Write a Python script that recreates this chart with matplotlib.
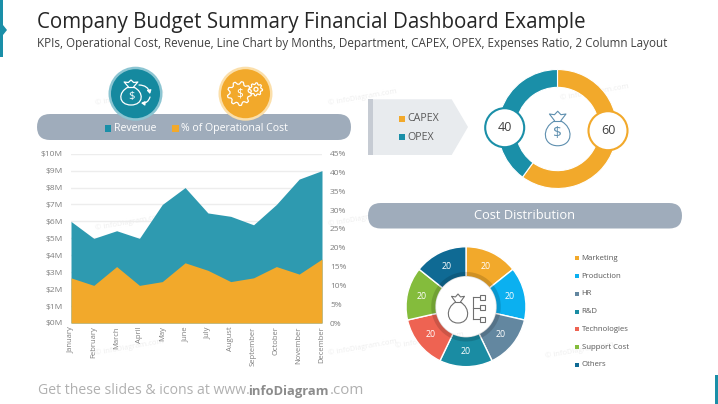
import numpy as np
import matplotlib
matplotlib.use("Agg")
import matplotlib.pyplot as plt
from matplotlib.patches import Circle, FancyBboxPatch, Polygon, Rectangle, PathPatch, FancyArrowPatch
from matplotlib.path import Path

plt.rcParams['font.family'] = ['Open Sans', 'DejaVu Sans']

months = ["January", "February", "March", "April", "May", "June", "July",
          "August", "September", "October", "November", "December"]
revenue = [6.0, 5.0, 5.45, 5.0, 7.0, 8.0, 6.5, 6.3, 5.8, 7.0, 8.5, 9.0]
op_cost = [12, 10, 15, 10, 11, 16, 14, 11, 12, 15, 13, 17]
budget_labels = ["CAPEX", "OPEX"]
budget_values = [60, 40]
cost_labels = ["Marketing", "Production", "HR", "R&D", "Technologies", "Support Cost", "Others"]
cost_values = [20, 20, 20, 20, 20, 20, 20]

ORANGE = "#F2A92B"
TEAL = "#1A8FA8"
AREA_TEAL = "#2E9AB0"
PILL = "#9FACBB"
GRAY = "#7F7F7F"
cost_colors = [ORANGE, "#0BB0F0", "#6387A0", "#1A8CA3", "#EE6352", "#84BC3C", "#0F6A94"]

W, H = 718, 404
fig = plt.figure(figsize=(W / 100, H / 100), dpi=100, facecolor="white")


def pixel_axes(x0, y0, x1, y1, **kw):
    return fig.add_axes([x0 / W, 1 - y1 / H, (x1 - x0) / W, (y1 - y0) / H], **kw)


bg = pixel_axes(0, 0, W, H)
bg.set_xlim(0, W); bg.set_ylim(H, 0); bg.axis("off"); bg.set_zorder(0)
top = pixel_axes(0, 0, W, H)
top.set_xlim(0, W); top.set_ylim(H, 0); top.axis("off"); top.set_zorder(10); top.patch.set_alpha(0)


def bag(ax, cx, cy, w, h, color, lw=1.0, dollar=None):
    def P(u, v):
        return (cx + u * w, cy + v * h)
    verts = [P(-0.13, -0.22), P(-0.72, -0.02), P(-0.66, 0.5), P(0, 0.5),
             P(0.66, 0.5), P(0.72, -0.02), P(0.13, -0.22)]
    codes = [Path.MOVETO] + [Path.CURVE4] * 6
    ax.add_patch(PathPatch(Path(verts, codes), fc="none", ec=color, lw=lw))
    ax.plot([P(-0.14, 0)[0], P(0.14, 0)[0]], [cy - 0.22 * h] * 2, color=color, lw=lw)
    ax.add_patch(Polygon([P(-0.13, -0.22), P(-0.36, -0.42), P(-0.14, -0.4), P(0, -0.5), P(0.14, -0.4),
                          P(0.36, -0.42), P(0.13, -0.22)], closed=False, fc="none", ec=color, lw=lw,
                         joinstyle="round"))
    if dollar:
        ax.text(cx, cy + 0.14 * h, "$", color=color, fontsize=dollar, ha="center", va="center")


def gear(ax, cx, cy, r, teeth, color, lw=1.0):
    angs = np.linspace(0, 2 * np.pi, teeth * 4, endpoint=False)
    radii = np.tile([r, r, r * 0.78, r * 0.78], teeth)
    ax.add_patch(Polygon(np.c_[cx + radii * np.cos(angs), cy + radii * np.sin(angs)], closed=True,
                         fc="none", ec=color, lw=lw, joinstyle="round"))


def pill(ax, x0, y0, x1, y1):
    h = y1 - y0
    ax.add_patch(FancyBboxPatch((x0 + h / 2, y0 + h / 2), x1 - x0 - h, 0.01,
                                boxstyle=f"round,pad={h / 2 - 0.01},rounding_size={h / 2 - 0.01}",
                                fc=PILL, ec="none"))


# Slide furniture
bg.add_patch(Rectangle((0, 0), 3, 57, fc=TEAL, ec="none"))
bg.add_patch(Polygon([(3, 25), (7, 30), (3, 35)], fc=TEAL, ec="none"))
bg.add_patch(Rectangle((715, 375), 3, 29, fc=TEAL, ec="none"))
bg.text(37, 22.5, "Company Budget Summary Financial Dashboard Example", fontsize=14.8, color="#262626", va="center")
bg.text(37, 44, "KPIs, Operational Cost, Revenue, Line Chart by Months, Department, CAPEX, OPEX, Expenses Ratio, 2 Column Layout",
        fontsize=8.33, color="#404040", va="center")
bg.text(38, 391, "Get these slides & icons at www.", fontsize=10.1, color="#B0B0B0", va="center")
bg.text(248, 391, "infoDiagram", fontsize=9.4, color="#8C8C8C", fontweight="bold", va="center")
bg.text(330, 391, ".com", fontsize=10.8, color="#B0B0B0", va="center")

# Faint watermarks, behind every other element
for x, y in [(95, 97), (328, 97), (95, 222), (328, 218), (95, 347), (328, 347), (560, 92), (545, 350), (395, 340)]:
    bg.text(x, y, "© infoDiagram.com", fontsize=5.5, color="#EEEEEE", rotation=10, va="center", zorder=0.5)

# KPI header
pill(bg, 37, 114, 351, 140)
for cx, col, ring in [(135.5, "#15899F", "#8CC5D2"), (245.5, ORANGE, "#FBDFAA")]:
    bg.add_patch(Circle((cx, 93.7), 27, fc=ring, ec="none"))
    bg.add_patch(Circle((cx, 93.7), 24.5, fc=col, ec="none"))
bag(bg, 131, 92.5, 19, 25, "white", 0.9, dollar=8)
bg.add_patch(FancyArrowPatch((139, 85), (150, 94), connectionstyle="arc3,rad=-0.4", arrowstyle="-|>,head_length=2,head_width=1.2",
                             color="white", lw=0.9, shrinkA=0, shrinkB=0))
bg.add_patch(FancyArrowPatch((150, 97), (141, 103), connectionstyle="arc3,rad=-0.4", arrowstyle="-|>,head_length=2,head_width=1.2",
                             color="white", lw=0.9, shrinkA=0, shrinkB=0))
gear(bg, 239.3, 93.5, 12, 9, "white", 0.9)
gear(bg, 256, 89.3, 6.5, 8, "white", 0.9)
bg.add_patch(Circle((256, 89.3), 2, fc="none", ec="white", lw=0.9))
bg.text(239.3, 94, "$", color="white", fontsize=8.5, ha="center", va="center")
bg.add_patch(Rectangle((104.5, 125), 6.5, 6.5, fc=TEAL, ec="none"))
bg.text(114, 128.3, "Revenue", color="white", fontsize=7.6, va="center")
bg.add_patch(Rectangle((172, 125), 6.5, 6.5, fc=ORANGE, ec="none"))
bg.text(181, 128.3, "% of Operational Cost", color="white", fontsize=7.55, va="center")

# Area chart
ax = pixel_axes(71, 153.7, 322, 323)
ax.set_zorder(2); ax.patch.set_alpha(0)
x = np.arange(len(months))
ax.fill_between(x, revenue, color=AREA_TEAL, lw=0, zorder=2)
ax.set_xlim(0, len(months) - 1)
ax.set_ylim(0, 10)
ax.set_yticks(range(0, 11))
ax.set_yticklabels([f"${v}M" for v in range(0, 11)], fontsize=6.0, color=GRAY)
ax.set_xticks(x)
ax.set_xticklabels(months, rotation=90, fontsize=5.5, color=GRAY)
ax.grid(axis="y", color="#EDEDED", lw=1, zorder=0)
ax.tick_params(length=0, pad=6, axis="y")
ax.tick_params(length=0, pad=2.5, axis="x")
for s in ax.spines.values():
    s.set_visible(False)
ax.set_axisbelow(True)

ax2 = ax.twinx()
ax2.set_zorder(3); ax2.patch.set_alpha(0)
ax2.fill_between(x, op_cost, color=ORANGE, lw=0)
ax2.set_ylim(0, 45)
ax2.set_yticks(range(0, 46, 5))
ax2.set_yticklabels([f"{v}%" for v in range(0, 46, 5)], fontsize=6.0, color=GRAY)
ax2.tick_params(length=0, pad=5.8)
for s in ax2.spines.values():
    s.set_visible(False)

# CAPEX / OPEX arrow box
bg.add_patch(Polygon([(368, 99.3), (451.7, 99.3), (468, 127), (451.7, 155), (368, 155)], fc="#E8EBEE", ec="none"))
bg.add_patch(Rectangle((368.3, 99.3), 4.5, 55.7, fc="#C6CBD3", ec="none"))
for y, lab, col in [(118.7, budget_labels[0], ORANGE), (137, budget_labels[1], TEAL)]:
    bg.add_patch(Rectangle((399, y - 3), 6, 6, fc=col, ec="none"))
    bg.text(407.5, y, lab, fontsize=7.7, color="#595959", va="center")

# Budget donut
d1 = pixel_axes(497, 68.5, 618, 189.5)
d1.set_zorder(2)
d1.pie(budget_values, colors=[ORANGE, TEAL], startangle=90, counterclock=False, radius=1.0,
       wedgeprops=dict(width=0.3, edgecolor="white", linewidth=0.8))
d1.set_xlim(-1.017, 1.017); d1.set_ylim(-1.017, 1.017)
bag(top, 557.7, 128.5, 23, 34.5, "#5E8FAF", 0.8, dollar=11)
for cx, cy, v, col in [(608, 130.7, budget_values[0], ORANGE), (504.7, 127.7, budget_values[1], TEAL)]:
    top.add_patch(Circle((cx, cy), 19.5, fc="white", ec=col, lw=1.5))
    top.text(cx, cy, str(v), fontsize=9, color="#404040", ha="center", va="center")

# Cost distribution header
pill(bg, 368, 203, 682, 228.5)
bg.text(525, 215.5, "Cost Distribution", color="white", fontsize=9.3, ha="center", va="center")

# Cost donut
d2 = pixel_axes(405, 245.7, 527, 367.7)
d2.set_zorder(2)
wedges, _ = d2.pie(cost_values, colors=cost_colors, startangle=90, counterclock=False, radius=1.0,
                   wedgeprops=dict(width=0.5, edgecolor="white", linewidth=1.0))
d2.pie(cost_values, colors=["#000000"] * len(cost_values), startangle=90, counterclock=False, radius=0.58,
       wedgeprops=dict(width=0.08, edgecolor="none", alpha=0.14))
d2.set_xlim(-1.017, 1.017); d2.set_ylim(-1.017, 1.017)
for w, v in zip(wedges, cost_values):
    a = np.deg2rad((w.theta1 + w.theta2) / 2)
    d2.text(0.75 * np.cos(a), 0.75 * np.sin(a), str(v), color="white", fontsize=6.3, ha="center", va="center")
bag(top, 458, 308.5, 18, 29, "#707070", 0.8)
top.plot([473.3, 473.3], [297, 319], color="#707070", lw=0.8)
for yy in (297, 307.5, 319):
    top.plot([473.3, 479.5], [yy, yy], color="#707070", lw=0.8)
    top.add_patch(Rectangle((479.5, yy - 2.4), 5, 5, fc="white", ec="#707070", lw=0.8))

for lab, col, y in zip(cost_labels, cost_colors, np.linspace(258.3, 365, len(cost_labels))):
    bg.add_patch(Rectangle((574.5, y - 2), 4, 4, fc=col, ec="none"))
    bg.text(581.5, y, lab, fontsize=5.6, color="#595959", va="center")

fig.savefig("out.png", dpi=100)
